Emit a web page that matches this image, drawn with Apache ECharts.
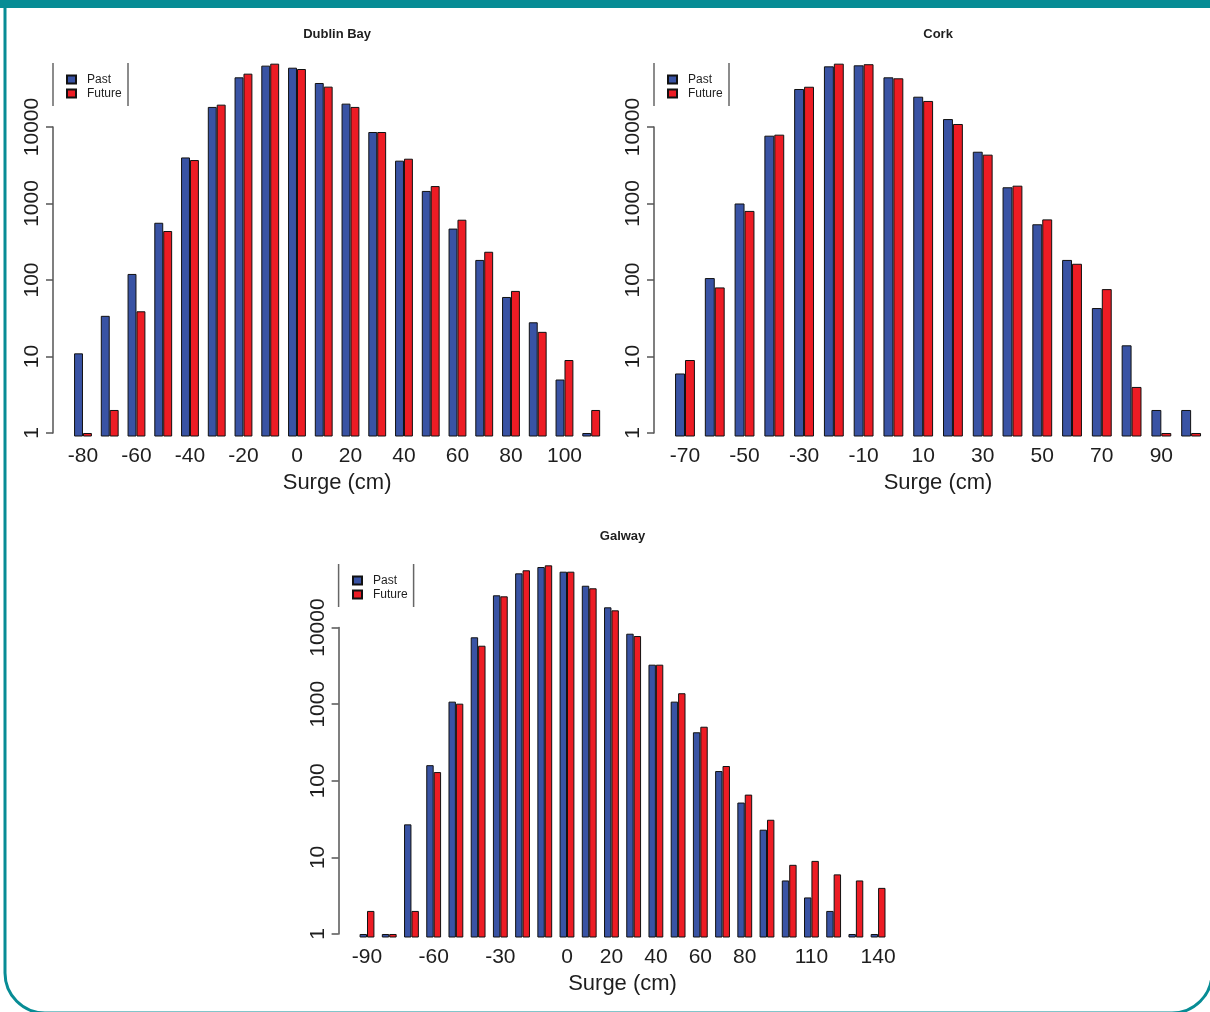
<!DOCTYPE html>
<html>
<head>
<meta charset="utf-8">
<script src="https://cdn.jsdelivr.net/npm/echarts@6/dist/echarts.min.js"></script>
<style>
html,body{margin:0;padding:0;background:#fff;}
#c{width:1210px;height:1012px;}
</style>
</head>
<body>
<div id="c"></div>
<script>
// ---------- DATA ----------
const dublinCategories = ['-80','-70','-60','-50','-40','-30','-20','-10','0','10','20','30','40','50','60','70','80','90','100','110'];
const dublinPast   = [11, 34, 120, 560, 4000, 18300, 44600, 63400, 59600, 37600, 20200, 8600, 3630, 1460, 470, 183, 60, 28, 5, 1];
const dublinFuture = [1, 2, 39, 437, 3700, 19600, 49800, 67300, 57300, 33700, 18300, 8600, 3850, 1690, 614, 234, 72, 21, 9, 2];
const dublinTickLabels = ['-80','-60','-40','-20','0','20','40','60','80','100'];

const corkCategories = ['-70','-60','-50','-40','-30','-20','-10','0','10','20','30','40','50','60','70','80','90','100'];
const corkPast   = [6, 106, 1000, 7700, 31400, 62100, 64000, 44600, 24900, 12700, 4750, 1630, 535, 183, 43, 14, 2, 2];
const corkFuture = [9, 80, 800, 7940, 33600, 67300, 66200, 43300, 21900, 10950, 4350, 1710, 620, 163, 76, 4, 1, 1];
const corkTickLabels = ['-70','-50','-30','-10','10','30','50','70','90'];

const galwayCategories = ['-90','-80','-70','-60','-50','-40','-30','-20','-10','0','10','20','30','40','50','60','70','80','90','100','110','120','130','140'];
const galwayPast   = [1, 1, 27, 160, 1080, 7470, 26400, 51100, 61800, 53700, 35200, 18400, 8320, 3280, 1080, 430, 134, 52, 23, 5, 3, 2, 1, 1];
const galwayFuture = [2, 1, 2, 130, 1016, 5800, 25600, 56000, 65000, 53700, 32600, 16800, 7760, 3280, 1390, 508, 156, 66, 31, 8, 9, 6, 5, 4];
const galwayTickLabels = ['-90','-60','-30','0','20','40','60','80','110','140'];

const yTickValues = [1, 10, 100, 1000, 10000];
const seriesNames = ['Past', 'Future'];
const panelTitles = ['Dublin Bay', 'Cork', 'Galway'];
const xAxisTitle = 'Surge (cm)';

// ---------- STYLE / LAYOUT ----------
const FONT = '"Liberation Sans", Arial, Helvetica, sans-serif';
const BLUE = '#3953A4', RED = '#ED1C24', TEAL = '#078C95', INK = '#1e1e1e', AXIS = '#555';

const panels = [
  { title: panelTitles[0], cats: dublinCategories, past: dublinPast, future: dublinFuture, shown: dublinTickLabels,
    grid: { left: 69.6, top: 50.5, width: 535, height: 386 }, axisX: 53, titleY: 34, legendLeft: 66, legendTop: 73, boxRight: 128, boxTop: 63, boxBottom: 106 },
  { title: panelTitles[1], cats: corkCategories, past: corkPast, future: corkFuture, shown: corkTickLabels,
    grid: { left: 670.1, top: 50.5, width: 535.9, height: 386 }, axisX: 654, titleY: 34, legendLeft: 667, legendTop: 73, boxRight: 729, boxTop: 63, boxBottom: 106 },
  { title: panelTitles[2], cats: galwayCategories, past: galwayPast, future: galwayFuture, shown: galwayTickLabels,
    grid: { left: 355.9, top: 551, width: 533.3, height: 386.5 }, axisX: 338.6, titleY: 536, legendLeft: 352, legendTop: 574, boxRight: 413.6, boxTop: 564, boxBottom: 607 }
];

const chart = echarts.init(document.getElementById('c'), null, { renderer: 'canvas' });

function buildOption(axisGeom) {
  const grids = [], xAxes = [], yAxes = [], series = [], legends = [], graphics = [];
  panels.forEach((p, i) => {
    grids.push({ left: p.grid.left, top: p.grid.top, width: p.grid.width, height: p.grid.height });
    xAxes.push({
      type: 'category', gridIndex: i, data: p.cats,
      axisLine: { show: false }, axisTick: { show: false }, splitLine: { show: false },
      axisLabel: { interval: (idx, val) => p.shown.includes(val), fontSize: 21, color: INK, fontFamily: FONT, margin: 9 },
      name: xAxisTitle, nameLocation: 'middle', nameGap: 35,
      nameTextStyle: { fontSize: 22, color: INK, fontFamily: FONT }
    });
    yAxes.push({ type: 'log', logBase: 10, gridIndex: i, min: 0.9, max: 100000, startValue: 0.9, show: false, splitLine: { show: false } });
    series.push({
      type: 'bar', name: seriesNames[0], xAxisIndex: i, yAxisIndex: i, data: p.past,
      barGap: '0%', barCategoryGap: '33.33%', silent: true,
      itemStyle: { color: BLUE, borderColor: '#111', borderWidth: 1 }
    });
    series.push({
      type: 'bar', name: seriesNames[1], xAxisIndex: i, yAxisIndex: i, data: p.future,
      barGap: '0%', barCategoryGap: '33.33%', silent: true,
      itemStyle: { color: RED, borderColor: '#111', borderWidth: 1 }
    });
    legends.push({
      data: seriesNames, orient: 'vertical', left: p.legendLeft, top: p.legendTop, padding: 0,
      itemWidth: 9, itemHeight: 8, itemGap: 1, icon: 'rect', selectedMode: false,
      textStyle: { fontSize: 12, color: INK, fontFamily: FONT, padding: [0, 0, 0, 6], lineHeight: 13 }
    });
    graphics.push({ type: 'text', x: p.grid.left + p.grid.width / 2, y: p.titleY,
      style: { text: p.title, font: 'bold 13px ' + FONT, fill: INK, align: 'center', verticalAlign: 'middle' } });
    graphics.push({ type: 'line', shape: { x1: p.axisX, y1: p.boxTop, x2: p.axisX, y2: p.boxBottom }, style: { stroke: '#666', lineWidth: 1.5 } });
    graphics.push({ type: 'line', shape: { x1: p.boxRight, y1: p.boxTop, x2: p.boxRight, y2: p.boxBottom }, style: { stroke: '#666', lineWidth: 1.5 } });
  });
  // visible y axes: span ticks 1..10000 only (like R)
  panels.forEach((p, i) => {
    const g = axisGeom[i];
    grids.push({ left: p.axisX, width: 1, top: g.top, height: g.height });
    xAxes.push({ type: 'value', gridIndex: 3 + i, show: false, min: 0, max: 1 });
    yAxes.push({
      type: 'log', logBase: 10, gridIndex: 3 + i, min: 1, max: 10000,
      axisLine: { show: true, lineStyle: { color: AXIS, width: 1.5 } },
      axisTick: { show: true, length: 7, lineStyle: { color: AXIS, width: 1.5 }, customValues: yTickValues },
      axisLabel: { rotate: 90, fontSize: 21, color: INK, fontFamily: FONT, margin: 10, customValues: yTickValues,
        formatter: v => String(Math.round(v)) },
      splitLine: { show: false }, minorTick: { show: false }
    });
  });
  // frame
  graphics.unshift(
    { type: 'rect', shape: { x: 5, y: -100, width: 1207, height: 1113, r: 40 }, style: { fill: 'none', stroke: TEAL, lineWidth: 3 } },
    { type: 'rect', shape: { x: 0, y: 0, width: 1210, height: 8 }, style: { fill: TEAL } }
  );
  return {
    animation: false, backgroundColor: '#fff',
    grid: grids, xAxis: xAxes, yAxis: yAxes, series: series, legend: legends, graphic: graphics
  };
}

// first pass with provisional axis geometry, then align visible axes to the bar scale
chart.setOption(buildOption(panels.map(p => ({ top: p.grid.top, height: p.grid.height }))));
const geom = panels.map((p, i) => {
  const y1 = chart.convertToPixel({ yAxisIndex: i }, 1);
  const y4 = chart.convertToPixel({ yAxisIndex: i }, 10000);
  return { top: y4, height: y1 - y4 };
});
chart.setOption(buildOption(geom), true);
</script>
</body>
</html>
